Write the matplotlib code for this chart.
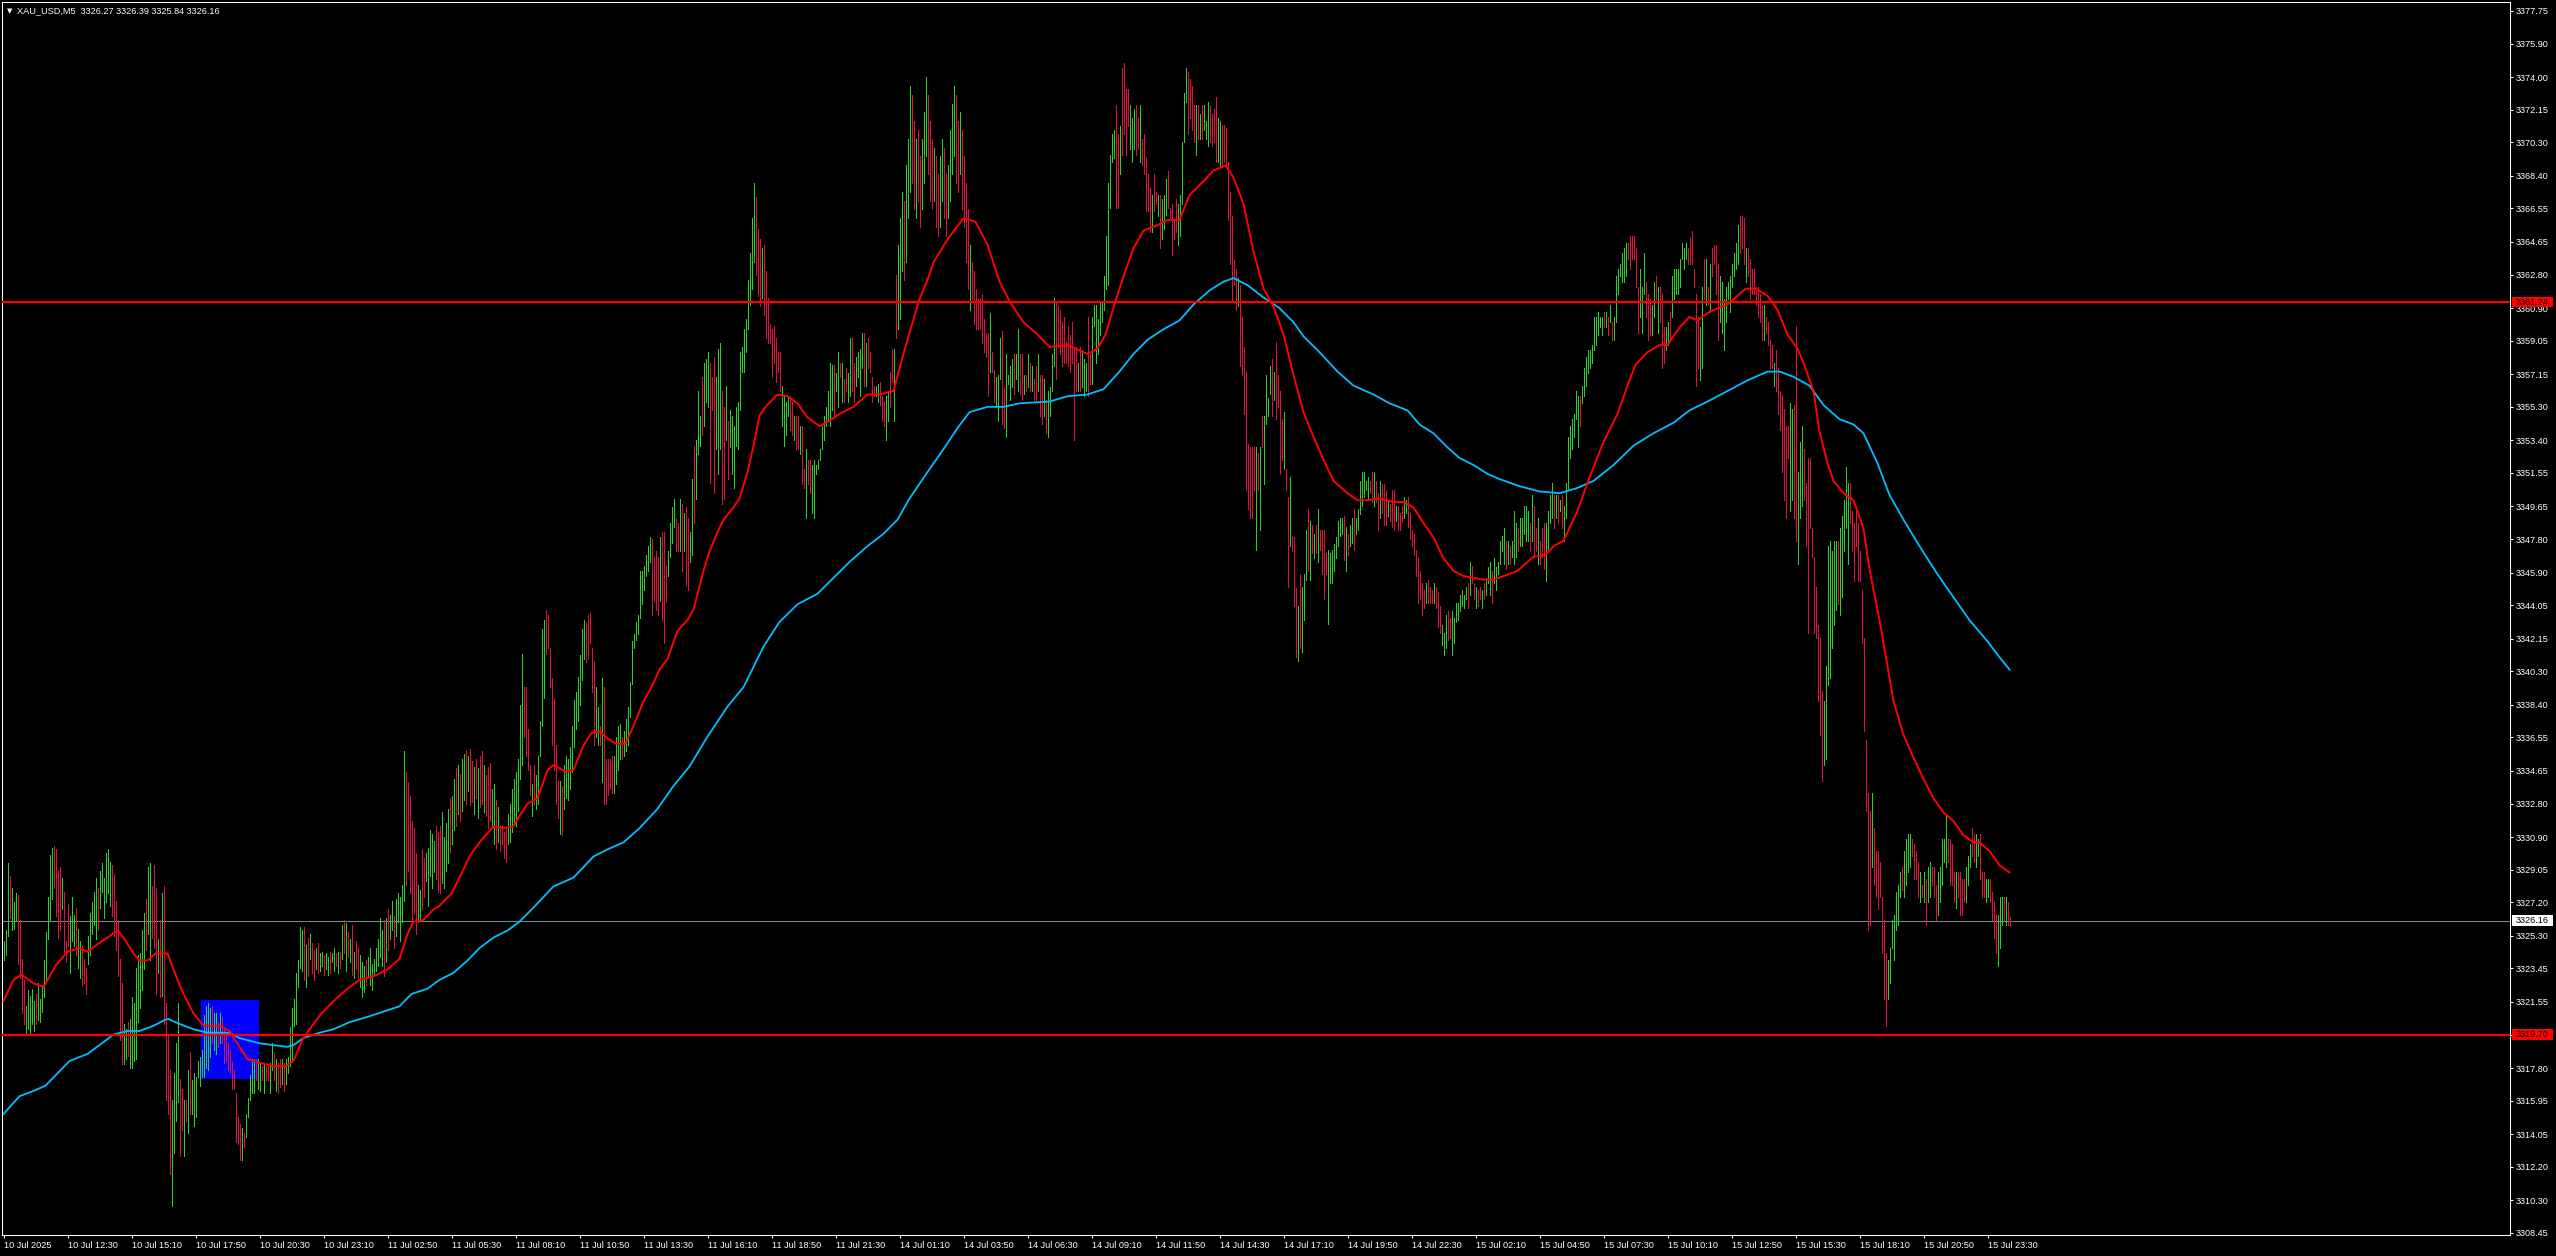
import numpy as np
import matplotlib
matplotlib.use("Agg")
import matplotlib.pyplot as plt
from matplotlib.patches import Rectangle
from matplotlib.transforms import blended_transform_factory

plt.rcParams['font.family'] = ['Liberation Sans', 'DejaVu Sans']

title_text = "XAU_USD,M5  3326.27 3326.39 3325.84 3326.16"

# ---- per-bar highs / lows (M5 bars) ----
high = [
3325.0,3325.6,3329.4,3328.7,3328.0,3327.2,3327.7,3327.6,3326.2,3324.0,
3322.8,3321.3,3322.2,3321.9,3322.3,3321.6,3322.0,3322.6,3321.7,3322.5,
3323.9,3325.5,3327.5,3329.9,3330.3,3330.4,3330.2,3329.0,3329.2,3328.6,
3327.8,3325.0,3327.1,3326.4,3327.5,3326.5,3326.9,3325.7,3325.0,3324.7,
3324.0,3323.5,3325.3,3326.6,3327.2,3327.8,3328.6,3328.0,3329.0,3329.4,
3328.6,3330.0,3330.2,3329.5,3329.3,3328.8,3327.3,3326.1,3324.0,3322.6,
3320.3,3320.0,3320.4,3320.6,3321.8,3321.5,3323.5,3324.2,3324.3,3325.6,
3326.6,3327.4,3329.2,3329.4,3328.1,3329.3,3328.0,3325.1,3326.2,3327.7,
3328.1,3321.5,3319.6,3317.7,3316.0,3317.5,3319.2,3321.5,3317.2,3316.6,
3316.0,3316.0,3317.7,3318.7,3317.1,3317.5,3317.3,3318.2,3318.4,3318.8,
3320.8,3321.3,3321.5,3321.2,3321.3,3320.9,3320.9,3320.4,3320.9,3320.7,
3320.1,3319.8,3319.2,3318.8,3318.2,3317.7,3316.4,3315.0,3314.6,3314.4,
3314.1,3315.2,3316.1,3317.4,3318.3,3318.3,3318.3,3318.3,3318.1,3317.9,
3318.1,3317.9,3317.9,3318.1,3319.2,3318.6,3318.3,3318.1,3318.3,3318.3,
3318.1,3318.3,3318.4,3320.1,3321.2,3321.7,3323.2,3323.9,3325.8,3325.6,
3325.8,3324.8,3325.2,3325.4,3324.9,3324.5,3324.6,3324.9,3324.3,3324.4,
3324.2,3324.3,3324.1,3324.4,3324.3,3324.6,3324.3,3324.4,3324.4,3325.9,
3326.2,3326.0,3325.5,3325.1,3325.9,3324.4,3325.0,3324.6,3324.2,3323.8,
3323.6,3323.9,3324.1,3324.6,3323.7,3324.0,3324.6,3325.1,3326.3,3325.6,
3326.2,3326.3,3326.8,3326.5,3327.3,3326.4,3327.4,3327.7,3327.5,3328.2,
3335.8,3334.6,3334.0,3333.2,3331.8,3331.4,3330.0,3328.2,3327.9,3330.2,
3329.7,3330.0,3330.3,3331.3,3331.1,3330.7,3331.5,3331.2,3331.5,3332.3,
3330.9,3331.7,3332.5,3333.1,3333.2,3334.2,3334.8,3335.0,3334.5,3335.3,
3335.6,3335.8,3335.5,3335.9,3335.2,3334.9,3335.3,3334.8,3335.5,3335.8,
3335.0,3334.4,3334.9,3335.1,3333.6,3333.9,3333.0,3332.6,3331.6,3331.5,
3331.2,3331.4,3332.2,3332.8,3333.6,3334.2,3334.6,3335.3,3338.4,3341.3,
3339.4,3339.4,3337.0,3335.0,3333.9,3335.0,3334.4,3335.5,3337.5,3342.7,
3343.2,3343.8,3343.5,3341.6,3339.9,3338.8,3336.1,3334.1,3334.1,3333.8,
3335.0,3335.5,3335.3,3336.0,3337.2,3338.7,3339.1,3340.0,3341.2,3342.7,
3343.2,3343.1,3343.5,3343.6,3341.6,3340.8,3339.4,3338.3,3337.2,3339.9,
3339.4,3335.3,3335.3,3335.3,3335.5,3335.5,3336.6,3337.2,3337.3,3336.6,
3336.9,3337.6,3338.3,3339.7,3342.0,3342.4,3343.1,3343.5,3346.0,3346.0,
3346.3,3346.9,3347.4,3347.9,3347.8,3346.8,3347.1,3346.8,3347.9,3348.2,
3348.2,3346.3,3347.1,3348.7,3349.6,3350.1,3349.0,3348.7,3350.1,3349.8,
3349.3,3349.6,3349.0,3348.2,3351.2,3353.1,3353.4,3356.2,3354.8,3357.0,
3357.8,3358.0,3358.4,3357.8,3357.0,3358.1,3357.0,3358.6,3358.9,3356.2,
3355.3,3356.5,3354.5,3355.1,3354.8,3354.2,3355.3,3355.6,3358.4,3358.7,
3359.7,3360.3,3362.5,3364.0,3366.0,3368.0,3367.2,3365.4,3364.8,3364.3,
3364.5,3363.0,3361.5,3360.0,3359.7,3359.9,3359.2,3358.4,3358.4,3356.5,
3355.9,3355.6,3355.9,3355.9,3355.6,3354.8,3354.8,3354.8,3354.2,3354.2,
3351.8,3352.9,3352.3,3352.3,3352.0,3352.3,3352.0,3352.3,3352.9,3354.2,
3354.8,3355.3,3356.2,3357.8,3357.7,3357.7,3357.2,3358.4,3357.8,3357.8,
3356.9,3357.5,3357.2,3359.2,3359.2,3357.8,3358.1,3358.4,3358.6,3359.5,
3359.5,3358.9,3359.2,3358.4,3357.0,3356.5,3356.5,3356.6,3356.7,3355.9,
3355.6,3355.9,3356.2,3357.3,3358.6,3358.6,3362.8,3364.5,3366.0,3367.5,
3367.0,3369.0,3370.5,3373.5,3373.0,3371.5,3370.5,3371.0,3369.5,3370.5,
3372.0,3374.0,3373.0,3371.5,3370.5,3370.0,3369.5,3368.5,3369.5,3370.5,
3370.0,3368.5,3369.0,3371.0,3372.5,3373.5,3373.0,3371.5,3372.0,3371.0,
3369.5,3368.0,3366.5,3364.5,3363.5,3363.0,3362.0,3361.4,3361.4,3361.7,
3360.3,3359.5,3359.5,3360.6,3358.4,3357.4,3357.0,3357.1,3359.2,3359.6,
3356.4,3358.3,3357.1,3357.6,3358.0,3358.3,3358.3,3359.7,3358.3,3358.3,
3357.1,3357.1,3358.3,3357.8,3357.6,3356.9,3357.6,3358.3,3357.1,3357.1,
3356.9,3355.7,3356.2,3356.4,3358.3,3361.5,3361.3,3361.1,3360.8,3360.1,
3360.4,3359.0,3359.9,3359.4,3360.1,3358.7,3358.7,3357.8,3358.7,3358.5,
3358.0,3357.8,3360.4,3358.3,3360.4,3361.1,3361.1,3360.3,3361.3,3361.3,
3362.7,3365.0,3368.0,3369.6,3370.8,3371.0,3372.4,3370.8,3371.2,3374.5,
3374.8,3373.3,3373.3,3372.4,3371.7,3372.2,3372.4,3371.7,3372.4,3370.5,
3370.8,3369.4,3368.5,3367.7,3367.3,3368.5,3367.5,3367.3,3367.3,3367.1,
3367.3,3368.2,3368.7,3366.6,3366.8,3365.9,3367.1,3366.8,3367.3,3370.3,
3373.1,3374.5,3374.3,3373.9,3373.5,3372.4,3372.4,3372.4,3371.9,3372.4,
3372.4,3371.5,3372.6,3372.4,3371.9,3372.2,3372.9,3371.7,3371.5,3371.3,
3371.3,3371.1,3369.2,3367.5,3366.1,3363.6,3363.1,3362.6,3362.2,3360.4,
3358.7,3357.3,3353.2,3353.0,3353.0,3353.0,3353.0,3352.7,3353.0,3354.8,
3354.8,3357.1,3355.8,3357.6,3358.0,3357.3,3359.0,3357.1,3356.2,3354.6,
3355.0,3351.8,3350.2,3351.3,3348.0,3347.9,3345.0,3344.0,3345.8,3345.1,
3345.8,3348.3,3349.5,3348.8,3348.6,3348.1,3348.6,3349.5,3348.3,3348.3,
3348.3,3347.0,3347.2,3347.0,3347.2,3347.5,3347.9,3348.8,3349.0,3349.0,
3349.1,3348.5,3348.1,3348.6,3349.0,3349.5,3349.0,3349.5,3351.1,3351.6,
3351.6,3351.1,3351.3,3351.1,3351.6,3351.6,3351.1,3350.4,3351.1,3350.9,
3350.9,3350.6,3350.0,3349.8,3350.6,3350.6,3349.7,3349.7,3349.3,3349.7,
3350.2,3350.0,3350.2,3349.3,3348.3,3348.1,3347.2,3346.7,3346.0,3345.3,
3344.9,3345.3,3345.5,3345.1,3344.9,3345.3,3345.1,3344.8,3344.0,3342.9,
3342.5,3343.5,3343.7,3343.3,3343.7,3343.3,3344.2,3344.2,3344.6,3344.9,
3344.6,3345.1,3345.3,3346.5,3346.3,3345.3,3345.1,3344.9,3345.1,3344.9,
3345.3,3345.6,3346.2,3346.5,3346.0,3346.7,3346.2,3346.5,3347.7,3348.0,
3348.4,3347.7,3347.7,3347.4,3347.7,3349.4,3348.7,3348.4,3349.0,3349.0,
3349.7,3349.7,3349.4,3348.7,3350.3,3349.7,3348.4,3349.0,3347.7,3348.4,
3348.7,3348.7,3349.4,3350.3,3351.0,3350.3,3350.3,3350.3,3350.0,3350.3,
3349.7,3351.0,3353.6,3354.2,3354.6,3354.9,3356.2,3355.9,3355.9,3356.5,
3357.5,3358.1,3358.5,3358.5,3358.8,3360.4,3360.4,3360.7,3360.4,3360.4,
3360.7,3360.7,3360.4,3361.1,3360.1,3360.4,3362.7,3363.1,3363.4,3364.0,
3364.3,3364.6,3364.6,3365.0,3365.0,3365.0,3364.3,3362.1,3363.1,3362.1,
3364.0,3362.4,3361.7,3361.4,3361.1,3362.4,3362.7,3362.1,3362.1,3361.7,
3359.8,3359.8,3360.1,3360.7,3362.7,3363.1,3363.1,3363.1,3363.7,3364.6,
3364.3,3364.6,3364.3,3364.9,3365.3,3363.1,3361.7,3360.4,3359.8,3362.1,
3363.7,3363.7,3362.1,3363.4,3364.3,3364.5,3364.5,3363.4,3362.7,3362.4,
3361.4,3362.1,3362.4,3362.7,3363.4,3364.0,3364.6,3365.6,3366.1,3366.1,
3366.0,3364.3,3364.3,3363.7,3363.1,3363.1,3362.1,3362.1,3361.7,3361.1,
3361.1,3360.4,3360.1,3359.1,3358.8,3357.8,3358.5,3357.5,3356.2,3355.9,
3355.2,3354.2,3354.2,3355.5,3355.2,3355.4,3359.9,3351.6,3353.3,3354.2,
3352.9,3351.0,3352.4,3352.4,3348.4,3346.8,3345.1,3342.9,3342.2,3339.2,
3338.6,3340.6,3347.4,3347.7,3347.1,3347.7,3347.7,3347.7,3348.4,3349.1,
3350.0,3351.9,3351.0,3351.0,3349.4,3348.7,3349.7,3348.7,3347.1,3344.9,
3342.2,3336.4,3333.4,3332.4,3333.4,3331.4,3330.1,3330.1,3329.5,3327.5,
3326.2,3324.3,3323.9,3324.6,3326.2,3326.5,3327.8,3328.2,3328.9,3329.2,
3330.1,3330.8,3331.1,3331.1,3330.8,3330.5,3330.1,3329.5,3328.9,3328.2,
3328.9,3328.5,3329.2,3329.5,3329.2,3329.2,3328.2,3328.9,3329.2,3330.8,
3330.8,3332.1,3330.8,3330.8,3330.5,3328.9,3328.9,3328.9,3328.9,3328.5,
3328.5,3329.2,3329.8,3330.5,3331.4,3331.1,3331.1,3330.8,3331.1,3328.9,
3328.9,3328.5,3328.5,3328.5,3327.8,3327.2,3326.5,3326.5,3327.5,3327.5,
3327.5,3327.5,3327.2,3326.39,
]

low = [
3323.9,3324.2,3325.3,3326.3,3325.6,3325.7,3326.2,3323.7,3322.9,3320.9,
3320.3,3319.8,3320.0,3319.8,3320.3,3319.9,3320.3,3320.5,3320.4,3321.0,
3321.8,3322.8,3325.1,3326.2,3327.4,3328.0,3326.4,3325.2,3325.6,3326.8,
3324.4,3323.8,3324.7,3323.2,3325.0,3324.7,3324.2,3323.5,3322.9,3322.5,
3322.6,3322.0,3323.7,3324.2,3325.4,3325.9,3325.1,3325.6,3326.9,3327.8,
3326.3,3327.2,3327.7,3327.0,3326.4,3325.3,3324.5,3323.0,3319.4,3318.0,
3318.0,3318.3,3318.5,3317.8,3317.8,3318.2,3318.3,3320.4,3321.2,3322.2,
3323.4,3324.5,3325.4,3323.9,3325.2,3324.6,3322.0,3323.2,3321.8,3321.9,
3320.3,3316.0,3315.2,3311.8,3310.0,3313.0,3314.8,3315.9,3312.8,3314.3,
3312.8,3314.8,3314.1,3315.2,3315.2,3314.5,3315.0,3317.3,3316.8,3317.3,
3317.3,3317.8,3317.7,3318.4,3319.2,3318.8,3318.6,3319.0,3319.2,3319.2,
3318.1,3318.2,3317.7,3317.5,3316.6,3316.6,3313.6,3313.5,3312.6,3312.6,
3313.3,3313.9,3315.0,3316.0,3316.4,3316.4,3317.1,3316.6,3316.5,3317.1,
3316.4,3317.1,3317.1,3316.4,3317.7,3317.1,3316.5,3316.4,3316.7,3316.9,
3316.5,3316.9,3317.5,3317.9,3318.3,3320.2,3320.3,3322.4,3323.5,3323.3,
3322.8,3322.4,3323.0,3324.0,3323.2,3322.8,3323.4,3323.2,3323.3,3323.6,
3323.1,3323.4,3323.1,3323.2,3323.8,3323.3,3323.6,3323.2,3323.5,3324.0,
3324.3,3323.3,3324.1,3323.8,3323.1,3322.9,3323.4,3322.9,3322.4,3321.8,
3322.1,3322.5,3323.0,3322.5,3322.2,3323.1,3323.3,3323.6,3324.1,3323.6,
3323.0,3323.8,3324.5,3325.1,3325.6,3324.6,3325.3,3326.1,3325.0,3326.1,
3327.3,3328.2,3329.0,3327.7,3326.2,3326.6,3325.4,3326.1,3326.2,3326.8,
3327.5,3328.4,3327.0,3328.7,3328.0,3328.9,3328.5,3327.8,3327.7,3328.3,
3328.0,3329.0,3329.4,3330.0,3330.5,3331.3,3331.5,3332.2,3331.8,3332.4,
3333.0,3332.8,3333.5,3332.7,3332.9,3332.2,3333.1,3332.0,3332.6,3332.8,
3332.3,3332.1,3331.4,3331.8,3331.5,3330.5,3330.2,3330.6,3330.1,3330.5,
3329.7,3329.5,3330.5,3330.6,3331.2,3331.6,3331.5,3332.4,3334.2,3335.0,
3336.6,3335.5,3334.7,3333.3,3332.1,3332.8,3332.5,3332.8,3335.5,3337.2,
3338.8,3341.3,3341.6,3339.4,3336.1,3334.7,3332.8,3332.0,3331.1,3331.0,
3332.5,3333.1,3333.0,3333.6,3334.6,3336.0,3337.0,3337.5,3338.4,3339.8,
3341.0,3340.8,3341.0,3341.9,3339.1,3336.1,3336.6,3336.1,3336.1,3334.0,
3332.8,3332.8,3333.3,3333.6,3333.4,3333.4,3333.9,3334.7,3335.3,3335.3,
3335.5,3335.8,3336.1,3337.7,3339.6,3341.6,3342.1,3342.4,3343.3,3344.1,
3344.9,3345.7,3346.0,3346.5,3343.5,3344.3,3343.8,3343.5,3344.3,3343.2,
3341.9,3344.3,3345.7,3346.8,3347.6,3348.5,3347.1,3347.1,3347.1,3346.0,
3347.1,3345.2,3344.9,3346.5,3346.9,3348.7,3350.1,3352.6,3353.1,3353.7,
3354.2,3355.6,3355.3,3351.0,3355.1,3350.4,3352.9,3351.5,3352.9,3349.8,
3350.1,3353.4,3351.2,3353.0,3351.5,3350.7,3353.1,3352.9,3355.1,3357.3,
3357.3,3358.4,3359.7,3361.1,3362.0,3363.5,3362.8,3361.6,3361.0,3361.5,
3360.5,3359.2,3358.9,3358.9,3357.0,3357.8,3356.7,3357.3,3356.2,3354.2,
3353.1,3353.7,3354.8,3354.0,3353.7,3353.4,3352.9,3352.9,3352.6,3350.9,
3350.7,3349.0,3350.9,3350.4,3349.3,3349.0,3351.5,3351.8,3352.3,3352.9,
3353.4,3354.2,3354.5,3354.2,3355.1,3354.8,3356.2,3355.3,3357.0,3355.6,
3355.6,3356.2,3355.6,3355.9,3356.2,3355.6,3356.5,3357.0,3355.9,3357.5,
3356.5,3356.5,3357.5,3357.3,3355.6,3355.9,3355.9,3355.6,3355.4,3354.5,
3354.2,3353.4,3354.5,3355.3,3356.7,3354.5,3359.2,3359.7,3360.3,3363.0,
3362.5,3363.5,3366.0,3367.5,3368.0,3366.5,3366.0,3367.0,3365.5,3366.5,
3368.0,3369.5,3368.5,3367.0,3366.5,3367.0,3365.5,3365.0,3365.5,3367.0,
3366.0,3365.0,3366.0,3367.0,3368.5,3369.5,3368.0,3367.5,3368.5,3366.5,
3365.5,3363.5,3362.0,3360.8,3361.4,3360.0,3359.7,3359.7,3359.7,3358.9,
3358.4,3358.1,3355.9,3357.3,3357.3,3355.6,3355.3,3354.5,3356.9,3354.3,
3354.1,3353.6,3356.6,3355.7,3356.4,3356.0,3356.9,3356.2,3356.0,3355.7,
3356.0,3356.2,3356.4,3356.2,3356.2,3355.7,3355.7,3356.2,3354.8,3354.3,
3354.8,3353.8,3353.6,3354.8,3356.2,3357.6,3356.9,3358.7,3358.3,3357.6,
3357.8,3357.8,3357.6,3357.3,3357.8,3353.4,3356.2,3356.2,3356.2,3356.4,
3355.9,3356.2,3355.9,3356.6,3356.6,3359.9,3357.8,3358.3,3359.4,3360.1,
3360.8,3362.0,3362.2,3366.6,3369.2,3369.4,3366.6,3366.6,3368.5,3369.6,
3370.8,3369.6,3371.2,3369.9,3369.2,3369.9,3369.6,3369.9,3369.2,3369.0,
3368.5,3366.4,3366.4,3365.2,3365.2,3366.4,3366.8,3366.1,3364.3,3364.8,
3365.4,3366.2,3366.6,3365.9,3363.9,3364.8,3365.2,3364.5,3365.0,3366.8,
3370.3,3372.6,3370.8,3371.7,3371.0,3370.3,3369.6,3370.5,3370.5,3370.5,
3371.0,3370.5,3370.1,3370.3,3370.1,3370.3,3369.2,3369.2,3368.9,3368.9,
3369.2,3369.0,3365.9,3363.4,3361.3,3362.2,3360.8,3361.0,3357.6,3357.1,
3354.9,3350.6,3349.5,3349.0,3349.0,3350.6,3347.2,3350.6,3348.3,3353.0,
3350.9,3354.3,3354.8,3356.0,3354.8,3355.7,3354.6,3355.3,3351.5,3352.3,
3351.8,3350.6,3345.1,3347.4,3347.1,3344.0,3341.1,3340.9,3341.6,3341.4,
3343.2,3345.5,3346.0,3345.5,3347.0,3346.7,3347.0,3346.5,3347.2,3345.8,
3344.4,3345.8,3343.0,3345.3,3345.3,3346.0,3346.7,3347.4,3348.0,3348.1,
3346.6,3346.0,3346.9,3347.4,3347.6,3347.2,3348.1,3348.3,3349.2,3349.7,
3350.2,3350.6,3350.0,3350.4,3349.9,3349.7,3349.9,3348.3,3349.0,3349.3,
3348.6,3348.6,3349.1,3348.8,3348.5,3348.3,3348.8,3348.3,3348.3,3348.8,
3349.0,3349.3,3348.5,3347.8,3347.4,3346.9,3345.7,3344.2,3344.4,3343.5,
3343.9,3344.2,3344.2,3344.2,3344.2,3344.2,3343.9,3342.8,3342.5,3341.8,
3341.2,3341.6,3342.1,3342.2,3341.2,3341.9,3343.1,3343.2,3343.7,3344.0,
3343.9,3344.4,3343.9,3344.6,3345.3,3344.4,3343.9,3344.0,3344.4,3343.9,
3344.4,3344.6,3345.3,3344.6,3344.2,3345.3,3344.9,3345.8,3346.4,3347.1,
3346.4,3346.1,3346.4,3346.4,3346.8,3346.4,3346.8,3347.1,3347.4,3347.4,
3348.1,3347.7,3347.7,3347.1,3347.7,3346.8,3347.1,3346.4,3346.4,3346.8,
3346.1,3345.4,3347.1,3348.7,3349.0,3348.4,3349.0,3348.7,3349.4,3348.4,
3347.7,3349.0,3350.6,3352.4,3352.9,3353.6,3354.6,3353.0,3354.2,3355.5,
3355.9,3356.5,3357.2,3357.5,3357.8,3358.5,3358.8,3359.4,3359.8,3359.4,
3359.8,3359.8,3359.4,3360.1,3359.1,3359.1,3360.1,3361.7,3362.7,3362.4,
3362.4,3362.7,3363.7,3363.1,3363.7,3363.7,3362.1,3359.5,3360.4,3359.5,
3361.7,3360.4,3359.1,3359.4,3359.4,3360.4,3361.4,3359.5,3360.1,3357.5,
3357.8,3358.5,3358.8,3359.1,3360.4,3361.4,3361.7,3361.7,3362.1,3363.7,
3363.1,3363.7,3363.4,3363.4,3363.4,3362.1,3356.5,3357.5,3356.8,3357.5,
3361.4,3361.1,3361.1,3360.7,3362.7,3363.4,3361.7,3359.1,3360.1,3359.5,
3358.5,3360.1,3361.4,3360.7,3362.1,3362.7,3363.1,3363.4,3364.0,3364.3,
3363.4,3362.4,3362.7,3361.4,3361.7,3361.7,3361.1,3360.4,3360.1,3359.1,
3359.1,3359.5,3358.8,3357.5,3357.5,3356.5,3356.2,3354.9,3354.0,3351.6,
3350.0,3349.0,3352.4,3349.4,3350.0,3349.0,3347.7,3346.4,3349.0,3349.7,
3350.0,3347.4,3342.5,3348.4,3346.8,3342.5,3342.2,3338.6,3336.7,3334.1,
3335.0,3335.3,3339.5,3339.9,3341.6,3342.9,3343.8,3344.1,3343.5,3344.5,
3347.1,3348.4,3346.4,3348.7,3347.1,3345.4,3347.4,3345.4,3345.4,3341.9,
3336.9,3332.4,3325.6,3325.9,3329.2,3328.2,3327.5,3326.8,3327.5,3324.3,
3321.7,3320.2,3321.7,3322.6,3324.6,3323.9,3325.6,3325.9,3327.5,3327.9,
3327.5,3328.2,3328.9,3329.2,3329.8,3328.5,3328.5,3327.5,3327.2,3327.5,
3327.2,3325.9,3327.2,3327.5,3328.2,3327.5,3326.2,3326.5,3327.2,3328.2,
3329.5,3329.2,3329.5,3328.2,3328.2,3327.2,3326.9,3327.5,3326.5,3326.5,
3327.2,3327.2,3328.2,3329.2,3329.8,3329.5,3329.2,3329.8,3328.5,3327.5,
3327.5,3327.2,3327.5,3327.2,3326.2,3325.2,3324.3,3323.6,3324.6,3325.9,
3326.2,3325.9,3325.9,3325.84,
]

# G = bullish bar, R = bearish bar
direction = (
"GGGRGGGRRR" "RGGGGGRGGG" "GGGGGRRRRG" "RRRGGGRGGR" "RRGGGGGRGG"
"GGGGRRRRRR" "GGRGGGGGGG" "GRGGRRRGRG" "RRRRGGGGRR" "GRGRGGGGGG"
"GGGGRGGRGR" "RRRRRRRRRG" "RGGGGGRGGR" "GRRGGRGRRG" "RGGGGGGGGG"
"RGRGRRGRGG" "RGGRGGRGRG" "RGRGRGRRGG" "GRGGGGGGGG" "RGRGGRGGGG"
"GRRRRRRGGR" "RGGGGGRRRG" "GGGRGGRGRG" "GRGRRGRGRR" "GRRRGGRGRR"
"RRGGGGGGGG" "RRRRGRGGGG" "GRRRRRRRGR" "GGGGGGGGGG" "GRRRRRGGRG"
"RRRRRGGGGR" "GGGGGGGGGG" "GGGGRRRRGR" "RRGGGGRRGR" "GRRGGRGGGR"
"GGGRRRGGGR" "RGRGGGGGGG" "GGGGGGRRRG" "RRRRRRRRRG" "GGGRRGRRGR"
"RGRRGGGGGG" "GGGGGRGGRG" "RRGGRRGGGG" "RGRRRRGGRR" "RGGRRGRGGG"
"RGGGRRGRRG" "GGRRRGRRGG" "RRGGGGRRGR" "RRRGRRRRRR" "RRRGRRGGGR"
"RGGGGRGGRR" "GRGRGRRGRR" "GRGGGGRRRR" "RRRRRRRGRG" "GGRRGGGGGG"
"GGGGGGRRGR" "RRRGGGRRGR" "RRRRGRRGRG" "GGRRRRRGGG" "GGRRRRGRGR"
"GGGRRRRGGR" "RRRRRRRGRR" "RRRRRRGRGR" "GGGGRGRRRR" "GRRGRRRGRG"
"GGRGRGRGRR" "RRGGGGGGGG" "RGRGGRGGGG" "GGGRRGRRGR" "RRGRRRGRRR"
"GGRRRRRRRR" "RGRRRGRRRG" "GGRRGGGGGG" "GGRGRRGRRG" "RGGGRGGGGG"
"GRGRGGGRGG" "GGGRGRRGRR" "RGGGGRGRGR" "GGGGGGGGRG" "GGGGGGGGGG"
"RGRGRGGGGG" "GGRRRRRRGG" "GRRRGGRGRR" "RGGRGGGGGG" "GGRRRRRRGG"
"RGRGRRRRGG" "GGGGGGGGRR" "RGRRRRRRRR" "GRRRRGRRRR" "RRRGGRRGGG"
"RRRRRRRRRR" "GGGGGGGRGG" "GGGRRRRRRR" "RRRRGRRRRR" "RRGGGGGGGR"
"GGGGRRRRGR" "GRGGRRRGGG" "GGRRRRGRRR" "RGGGRRGGRR" "RGGRRRRGGG"
"RGRR"
)

# ---- moving averages (bar index, price) ----
fast_ma_bar = [0,5,9,15,20,26,32,38,42,48,52,57,60,65,68,72,76,82,87,90,95,100,108,113,118,122,128,135,141,145,
    149,153,159,165,172,178,185,192,198,202,205,210,215,218,224,228,233,238,245,250,255,258,262,267,272,275,281,285,
    290,294,298,302,306,311,315,320,324,328,332,337,342,345,350,353,357,360,365,368,372,375,378,381,387,392,397,402,
    408,413,418,425,432,438,445,448,453,458,462,465,472,480,486,492,498,503,510,517,523,532,538,542,547,551,556,560,
    565,570,577,582,588,593,600,605,611,615,620,625,630,635,640,645,650,655,660,665,672,677,682,688,695,700,705,710,
    715,720,725,730,735,740,745,750,757,765,771,775,780,787,793,800,807,812,816,822,828,832,838,843,847,853,862,867,
    871,876,882,887,892,897,900,905,908,912,915,920,925,930,933,938,942,945,950,955,960,965,970,975,980,985,988,993,
    998,1003]
fast_ma_val = [3321.6,3322.8,3323.1,3322.6,3322.4,3323.6,3324.4,3324.6,3324.4,3324.9,3325.2,3325.6,3325.2,3324.3,
    3323.9,3323.9,3324.3,3324.3,3322.8,3322.0,3320.9,3320.2,3320.2,3319.9,3319.0,3318.3,3318.1,3317.9,3317.9,3318.2,
    3319.3,3320.0,3320.9,3321.6,3322.3,3322.8,3323.0,3323.4,3324.0,3325.4,3326.1,3326.2,3326.8,3327.0,3327.7,3328.6,
    3329.8,3330.6,3331.5,3331.4,3331.5,3332.1,3332.8,3333.1,3334.7,3335.0,3334.6,3334.7,3336.1,3336.8,3336.9,3336.5,
    3336.2,3336.2,3337.2,3338.6,3339.4,3340.4,3341.0,3342.6,3343.2,3343.8,3346.0,3347.1,3348.2,3348.9,3349.6,3350.1,
    3351.6,3353.1,3354.8,3355.3,3356.0,3355.9,3355.5,3354.7,3354.2,3354.5,3354.9,3355.3,3356.0,3356.0,3356.2,3357.5,
    3359.5,3361.4,3362.5,3363.5,3364.8,3366.0,3365.8,3364.5,3362.4,3361.3,3360.1,3359.4,3358.7,3358.8,3358.5,3358.3,
    3358.6,3359.4,3361.3,3362.7,3364.3,3365.3,3365.6,3365.9,3365.9,3367.3,3368.1,3368.7,3369.0,3368.3,3366.8,3364.1,
    3362.0,3361.0,3359.4,3357.1,3355.0,3353.6,3352.3,3351.1,3350.4,3350.0,3350.0,3350.1,3349.9,3349.9,3349.6,3348.7,
    3347.9,3346.7,3346.0,3345.7,3345.6,3345.5,3345.5,3345.7,3346.0,3346.8,3346.9,3347.4,3347.7,3349.4,3351.3,3353.3,
    3354.9,3356.5,3357.7,3358.4,3358.8,3358.8,3359.8,3360.4,3360.2,3360.7,3361.1,3361.6,3362.0,3362.0,3361.6,3360.8,
    3359.4,3358.6,3357.8,3356.2,3353.9,3352.1,3351.1,3350.4,3350.0,3348.4,3346.1,3343.2,3340.6,3338.6,3336.7,3335.4,
    3334.2,3333.1,3332.3,3331.8,3331.0,3330.6,3330.6,3330.1,3329.3,3328.9]

slow_ma_bar = [0,8,15,21,27,33,42,48,55,62,68,75,82,88,95,102,113,118,128,135,142,145,150,158,165,173,182,190,198,
    204,212,218,225,232,238,245,252,258,265,275,285,295,302,310,318,327,335,343,352,362,370,380,388,397,407,415,423,
    432,440,447,453,462,470,477,483,492,500,508,523,532,542,550,558,565,572,580,588,595,603,610,615,622,630,638,645,
    650,658,667,675,685,693,702,708,715,722,728,735,742,748,758,768,778,787,795,805,815,825,835,843,852,862,872,882,
    888,895,903,910,918,925,930,937,943,950,958,967,975,983,992,998,1003]
slow_ma_val = [3315.2,3316.2,3316.5,3316.8,3317.5,3318.2,3318.6,3319.1,3319.7,3319.9,3319.9,3320.2,3320.6,3320.3,
    3320.0,3319.8,3319.8,3319.5,3319.2,3319.1,3319.0,3319.1,3319.5,3319.8,3320.0,3320.4,3320.7,3321.0,3321.3,3322.0,
    3322.3,3322.8,3323.2,3323.9,3324.6,3325.2,3325.6,3326.1,3326.9,3328.1,3328.6,3329.8,3330.2,3330.6,3331.4,3332.5,
    3333.8,3334.9,3336.6,3338.3,3339.4,3341.7,3343.1,3344.1,3344.7,3345.6,3346.5,3347.4,3348.1,3348.9,3350.1,3351.6,
    3352.9,3354.1,3355.0,3355.3,3355.3,3355.5,3355.6,3355.9,3356.0,3356.3,3357.3,3358.3,3359.1,3359.7,3360.2,3361.1,
    3361.9,3362.4,3362.6,3362.2,3361.5,3360.9,3360.1,3359.3,3358.4,3357.3,3356.5,3356.0,3355.5,3355.1,3354.3,3353.8,
    3353.0,3352.4,3352.0,3351.5,3351.2,3350.8,3350.5,3350.4,3350.7,3351.1,3352.0,3353.1,3353.8,3354.4,3355.1,3355.6,
    3356.2,3356.8,3357.3,3357.3,3357.0,3356.5,3355.4,3354.6,3354.3,3353.8,3352.1,3350.3,3348.9,3347.4,3345.8,3344.5,
    3343.2,3342.0,3341.1,3340.4]

# ---- drawn objects ----
level_prices = [3361.24, 3319.70]
last_price = 3326.16
box_bars = (98.9, 127.75)
box_prices = (3317.17, 3321.65)

# ---- axes labels ----
time_labels = ["10 Jul 2025", "10 Jul 12:30", "10 Jul 15:10", "10 Jul 17:50", "10 Jul 20:30", "10 Jul 23:10",
    "11 Jul 02:50", "11 Jul 05:30", "11 Jul 08:10", "11 Jul 10:50", "11 Jul 13:30", "11 Jul 16:10", "11 Jul 18:50",
    "11 Jul 21:30", "14 Jul 01:10", "14 Jul 03:50", "14 Jul 06:30", "14 Jul 09:10", "14 Jul 11:50", "14 Jul 14:30",
    "14 Jul 17:10", "14 Jul 19:50", "14 Jul 22:30", "15 Jul 02:10", "15 Jul 04:50", "15 Jul 07:30", "15 Jul 10:10",
    "15 Jul 12:50", "15 Jul 15:30", "15 Jul 18:10", "15 Jul 20:50", "15 Jul 23:30"]
bars_per_label = 32
price_ticks = [3377.75, 3375.90, 3374.00, 3372.15, 3370.30, 3368.40, 3366.55, 3364.65, 3362.80, 3360.90,
    3359.05, 3357.15, 3355.30, 3353.40, 3351.55, 3349.65, 3347.80, 3345.90, 3344.05, 3342.15, 3340.30,
    3338.40, 3336.55, 3334.65, 3332.80, 3330.90, 3329.05, 3327.20, 3325.30, 3323.45, 3321.55, 3319.70,
    3317.80, 3315.95, 3314.05, 3312.20, 3310.30, 3308.45]

# ---- figure ----
W, H = 2556, 1256
fig = plt.figure(figsize=(W / 100, H / 100), dpi=100, facecolor='black')
ax = fig.add_axes([2 / W, 21 / H, 2508 / W, 1233 / H])
ax.set_facecolor('black')

n = min(len(high), len(low), len(direction))
xs = np.arange(n)
cols = ['#32CD32' if d == 'G' else '#DC143C' for d in direction[:n]]
ax.vlines(xs, low[:n], high[:n], colors=cols, linewidth=0.68, antialiased=False, zorder=3)

ax.add_patch(Rectangle((box_bars[0], box_prices[0]), box_bars[1] - box_bars[0],
                       box_prices[1] - box_prices[0], facecolor='#0000FF', edgecolor='none', zorder=1))

ax.axhline(last_price, color='#778899', lw=0.75, zorder=2)
ax.plot(slow_ma_bar, slow_ma_val, color='#00BFFF', lw=1.3, zorder=4, solid_joinstyle='round')
ax.plot(fast_ma_bar, fast_ma_val, color='#FF0000', lw=1.4, zorder=4, solid_joinstyle='round')
for p in level_prices:
    ax.axhline(p, color='#FF0000', lw=1.6, zorder=5)

ax.set_xlim(-0.75, 1253.25)
ax.set_ylim(3308.33, 3378.26)

for s in ax.spines.values():
    s.set_color('white')
    s.set_linewidth(0.75)

ax.set_xticks([k * bars_per_label for k in range(len(time_labels))])
ax.set_xticklabels(time_labels, ha='left')
ax.tick_params(axis='x', colors='white', length=2.5, width=0.75, pad=1.5, labelsize=6.6)
ax.yaxis.tick_right()
ax.set_yticks(price_ticks)
ax.set_yticklabels([f"{v:.2f}" for v in price_ticks])
ax.tick_params(axis='y', colors='white', length=2, width=0.75, pad=2.2, labelsize=6.6)

# price tags on the right scale
trans = blended_transform_factory(ax.transAxes, ax.transData)
tag_h = 10.5 / 17.63
for p, fc in [(level_prices[0], '#FF0000'), (level_prices[1], '#FF0000'), (last_price, '#FFFFFF')]:
    ax.add_patch(Rectangle((1.0008, p - tag_h / 2), 0.01635, tag_h, transform=trans,
                           facecolor=fc, edgecolor='none', clip_on=False, zorder=6))
    ax.text(1.0024, p, f"{p:.2f}", transform=trans, ha='left', va='center',
            fontsize=6.6, color='black', zorder=7, clip_on=False)

fig.text(9.5 / W, 1 - 10.7 / H, "▼", fontsize=5, color='white', ha='center', va='center',
         family=['DejaVu Sans'])
fig.text(17 / W, 1 - 10.7 / H, title_text, fontsize=6.6, color='white', ha='left', va='center')

fig.savefig('out.png', dpi=100, facecolor='black')
